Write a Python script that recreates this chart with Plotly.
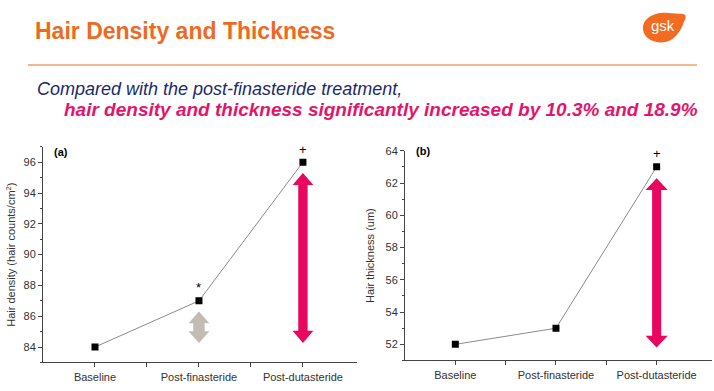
import plotly.graph_objects as go

categories = ["Baseline", "Post-finasteride", "Post-dutasteride"]
density = [84, 87, 96]
thickness = [52, 53, 63]
density_marks = ["", "*", "+"]
thickness_marks = ["", "", "+"]
density_ticks = [84, 86, 88, 90, 92, 94, 96]
thickness_ticks = [52, 54, 56, 58, 60, 62, 64]

FONT = "Liberation Sans, Arial, sans-serif"
PINK = "#E8065F"
GREY_ARROW = "#C3BCB5"
W, H = 714, 391

xs = list(range(len(categories)))

fig = go.Figure()
fig.add_trace(go.Scatter(x=xs, y=density, mode="lines+markers",
                         line=dict(color="#8a8a8a", width=1),
                         marker=dict(symbol="square", size=7, color="black"),
                         xaxis="x", yaxis="y", showlegend=False))
fig.add_trace(go.Scatter(x=xs, y=thickness, mode="lines+markers",
                         line=dict(color="#8a8a8a", width=1),
                         marker=dict(symbol="square", size=7, color="black"),
                         xaxis="x2", yaxis="y2", showlegend=False))


def arrow_path(c, top, bot, hw, sw, hl):
    pts = [(c, top), (c + hw, top - hl), (c + sw, top - hl), (c + sw, bot + hl),
           (c + hw, bot + hl), (c, bot), (c - hw, bot + hl), (c - sw, bot + hl),
           (c - sw, top - hl), (c - hw, top - hl)]
    return "M " + " L ".join(f"{x},{y}" for x, y in pts) + " Z"


def px(x, y):
    return f"{x / W},{1 - y / H}"


shapes = []
# (a) arrows
shapes.append(dict(type="path", xref="x", yref="y", line=dict(width=0), fillcolor=PINK,
                   path=arrow_path(2, 95.3, 84.27, 0.1, 0.045, 0.78)))
shapes.append(dict(type="path", xref="x", yref="y", line=dict(width=0), fillcolor=GREY_ARROW,
                   path=arrow_path(1, 86.3, 84.27, 0.1, 0.055, 0.75)))
# (b) arrow
shapes.append(dict(type="path", xref="x2", yref="y2", line=dict(width=0), fillcolor=PINK,
                   path=arrow_path(2, 62.3, 51.8, 0.11, 0.045, 0.73)))
# orange rule
shapes.append(dict(type="line", xref="paper", yref="paper", x0=28 / W, x1=697 / W,
                   y0=1 - 60 / H, y1=1 - 60 / H, line=dict(color="#F5B88E", width=2)))
# gsk logo blob
shapes.append(dict(type="path", xref="paper", yref="paper", fillcolor="#F26B21",
                   line=dict(width=0),
                   path=(f"M {px(643,24)} C {px(642,12)} {px(655,6)} {px(668,7)} "
                         f"L {px(683,8)} C {px(687,9)} {px(686,12)} {px(684,16)} "
                         f"C {px(680,28)} {px(672,38)} {px(660,37)} "
                         f"C {px(650,36)} {px(644,31)} {px(643,24)} Z")))

annotations = []
for i, m in enumerate(density_marks):
    if m:
        annotations.append(dict(x=i, y=density[i], yshift=13, xref="x", yref="y", text=m,
                                showarrow=False, font=dict(family=FONT, size=13, color="black")))
for i, m in enumerate(thickness_marks):
    if m:
        annotations.append(dict(x=i, y=thickness[i], yshift=13, xref="x2", yref="y2", text=m,
                                showarrow=False, font=dict(family=FONT, size=13, color="black")))
annotations += [
    dict(x=52 / W, y=1 - 148 / H, xref="paper", yref="paper", text="<b>(a)</b>", showarrow=False,
         xanchor="left", yanchor="middle", font=dict(family=FONT, size=11, color="black")),
    dict(x=414 / W, y=1 - 147 / H, xref="paper", yref="paper", text="<b>(b)</b>", showarrow=False,
         xanchor="left", yanchor="middle", font=dict(family=FONT, size=11, color="black")),
    dict(x=33 / W, y=1 - 25 / H, xref="paper", yref="paper", text="<b>Hair Density and Thickness</b>",
         showarrow=False, xanchor="left", yanchor="middle",
         font=dict(family=FONT, size=23, color="#EE6A1F")),
    dict(x=35 / W, y=1 - 84 / H, xref="paper", yref="paper",
         text="<i>Compared with the post-finasteride treatment,</i>",
         showarrow=False, xanchor="left", yanchor="middle",
         font=dict(family=FONT, size=18, color="#1B2A6B")),
    dict(x=62 / W, y=1 - 105 / H, xref="paper", yref="paper",
         text="<b><i>hair density and thickness significantly increased by 10.3% and 18.9%</i></b>",
         showarrow=False, xanchor="left", yanchor="middle",
         font=dict(family=FONT, size=19, color="#E5146A")),
    dict(x=663 / W, y=1 - 20 / H, xref="paper", yref="paper", text="gsk",
         showarrow=False, xanchor="center", yanchor="middle",
         font=dict(family=FONT, size=15, color="white")),
]

axis_common = dict(showline=True, linecolor="#444", linewidth=1, ticks="outside", ticklen=4,
                   tickcolor="#444", showgrid=False, zeroline=False,
                   tickfont=dict(family=FONT, size=11, color="#333"))

fig.update_layout(
    width=W, height=H, margin=dict(l=0, r=0, t=0, b=0),
    paper_bgcolor="white", plot_bgcolor="white",
    shapes=shapes, annotations=annotations,
    xaxis=dict(domain=[43 / W, 357 / W], range=[-0.5, 2.52], tickvals=xs, ticktext=categories,
               anchor="y", minor=dict(tickvals=[0.5, 1.5], ticks="outside", ticklen=4,
                                      tickcolor="#444"), **axis_common),
    yaxis=dict(domain=[1 - 362 / H, 1 - 143 / H], range=[83, 97], tickvals=density_ticks,
               anchor="x", minor=dict(dtick=1, ticks="outside", ticklen=2, tickcolor="#444"),
               title=dict(text="Hair density (hair counts/cm<sup>2</sup>)", standoff=5,
                          font=dict(family=FONT, size=11, color="#333")),
               **axis_common),
    xaxis2=dict(domain=[405 / W, 712 / W], range=[-0.5, 2.55], tickvals=xs, ticktext=categories,
                anchor="y2", minor=dict(tickvals=[0.5, 1.5], ticks="outside", ticklen=4,
                                        tickcolor="#444"), **axis_common),
    yaxis2=dict(domain=[1 - 360 / H, 1 - 147 / H], range=[51, 64], tickvals=thickness_ticks,
                anchor="x2", minor=dict(dtick=1, ticks="outside", ticklen=2, tickcolor="#444"),
                title=dict(text="Hair thickness (um)", standoff=8,
                           font=dict(family=FONT, size=11, color="#333")),
                **axis_common),
)

fig.write_html("out.html", config={"displayModeBar": False},
               post_script="document.body.style.margin='0';document.body.style.overflow='hidden';")
